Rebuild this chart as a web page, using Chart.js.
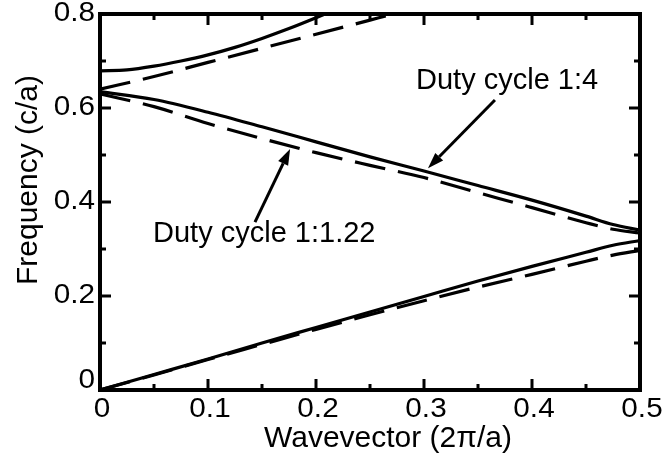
<!DOCTYPE html>
<html lang="en">

<head>
  <meta charset="UTF-8" />
  <title>Band diagram</title>
  <style>
    body {
      margin: 0;
      background: #fff;
    }
    div {
      width: 666px;
      height: 468px;
    }
  </style>
</head>

<body>
  <div>
    <canvas id="myChart"></canvas>
  </div>

  <script src="https://cdn.jsdelivr.net/npm/chart.js"></script>
  <script>
    // wavevector samples (2pi/a)
    const kx = [0, 0.05, 0.1, 0.15, 0.2, 0.25, 0.3, 0.35, 0.4, 0.45, 0.475, 0.5];
    // first band
    const band1Solid = [0, 0.033, 0.066, 0.1, 0.133, 0.166, 0.199, 0.232, 0.263, 0.293, 0.308, 0.318];
    const band1Dashed = [0, 0.032, 0.065, 0.097, 0.129, 0.16, 0.19, 0.219, 0.246, 0.274, 0.287, 0.297];
    // second band
    const band2Solid = [0.635, 0.618, 0.591, 0.56, 0.528, 0.496, 0.466, 0.435, 0.404, 0.37, 0.352, 0.34];
    const band2Dashed = [0.63, 0.603, 0.567, 0.535, 0.505, 0.478, 0.452, 0.42, 0.388, 0.356, 0.342, 0.334];
    // third band (leaves the plot at the top)
    const band3SolidX = [0, 0.025, 0.05, 0.075, 0.1, 0.125, 0.15, 0.175, 0.2, 0.225, 0.25];
    const band3Solid = [0.679, 0.681, 0.689, 0.7, 0.713, 0.729, 0.748, 0.769, 0.792, 0.816, 0.84];
    const band3DashedX = [0, 0.05, 0.1, 0.15, 0.2, 0.25, 0.3];
    const band3Dashed = [0.64, 0.667, 0.697, 0.727, 0.757, 0.787, 0.817];

    const xTicks = [0, 0.1, 0.2, 0.3, 0.4, 0.5];
    const xTickLabels = ["0", "0.1", "0.2", "0.3", "0.4", "0.5"];
    const xMinor = [0.05, 0.15, 0.25, 0.35, 0.45];
    const yTicks = [0, 0.2, 0.4, 0.6, 0.8];
    const yTickLabels = ["0", "0.2", "0.4", "0.6", "0.8"];
    const yMinor = [0.1, 0.3, 0.5, 0.7];

    const pts = (xs, ys) => xs.map((x, i) => ({ x: x, y: ys[i] }));

    const FONT = '"Liberation Sans", Arial, Helvetica, sans-serif';

    function line(label, xs, ys, dashed) {
      return {
        label: label,
        data: pts(xs, ys),
        borderColor: "#000",
        borderWidth: 3.2,
        borderDash: dashed ? [31, 13] : [],
        pointRadius: 0,
        fill: false,
        cubicInterpolationMode: "monotone",
      };
    }

    // annotation labels with arrows (text position in data units, arrow from -> to)
    const notes = [
      { text: "Duty cycle 1:4", tx: 0.2926, ty: 0.6405, from: [0.3657, 0.617], to: [0.3037, 0.472] },
      { text: "Duty cycle 1:1.22", tx: 0.0491, ty: 0.3157, from: [0.1435, 0.357], to: [0.176, 0.513] },
    ];

    function stretchText(ctx, txt, x, y, align, sx) {
      ctx.save();
      ctx.translate(x, y);
      ctx.scale(sx, 1);
      ctx.textAlign = align;
      ctx.fillText(txt, 0, 0);
      ctx.restore();
    }

    const framePlugin = {
      id: "frame",
      afterDatasetsDraw(chart) {
        const { ctx, chartArea: a, scales } = chart;
        const xs = scales.x, ys = scales.y;
        ctx.save();
        ctx.strokeStyle = "#000";
        ctx.fillStyle = "#000";
        ctx.lineWidth = 4;
        ctx.strokeRect(a.left, a.top, a.right - a.left, a.bottom - a.top);

        ctx.lineWidth = 3;
        ctx.lineCap = "butt";
        const tick = (x1, y1, x2, y2) => {
          ctx.beginPath();
          ctx.moveTo(x1, y1);
          ctx.lineTo(x2, y2);
          ctx.stroke();
        };
        xTicks.forEach(v => {
          const p = xs.getPixelForValue(v);
          tick(p, a.bottom, p, a.bottom - 11);
          tick(p, a.top, p, a.top + 11);
        });
        xMinor.forEach(v => {
          const p = xs.getPixelForValue(v);
          tick(p, a.bottom, p, a.bottom - 6);
          tick(p, a.top, p, a.top + 6);
        });
        yTicks.forEach(v => {
          const p = ys.getPixelForValue(v);
          tick(a.left, p, a.left + 11, p);
          tick(a.right, p, a.right - 11, p);
        });
        yMinor.forEach(v => {
          const p = ys.getPixelForValue(v);
          tick(a.left, p, a.left + 6, p);
          tick(a.right, p, a.right - 6, p);
        });

        // tick labels
        ctx.font = "27px " + FONT;
        ctx.textBaseline = "top";
        xTicks.forEach((v, i) => {
          stretchText(ctx, xTickLabels[i], xs.getPixelForValue(v) + 2, a.bottom + 6, "center", 1.1);
        });
        ctx.textBaseline = "middle";
        yTicks.forEach((v, i) => {
          let p = ys.getPixelForValue(v);
          if (v === 0) p -= 9;
          stretchText(ctx, yTickLabels[i], a.left - 5, p, "right", 1.1);
        });

        // axis titles
        ctx.font = "30px " + FONT;
        ctx.textAlign = "center";
        ctx.textBaseline = "alphabetic";
        ctx.fillText("Wavevector (2\u03c0/a)", 388, 447);
        ctx.save();
        ctx.translate(37, 180);
        ctx.rotate(-Math.PI / 2);
        ctx.fillText("Frequency (c/a)", 0, 0);
        ctx.restore();

        // annotations
        ctx.font = "29px " + FONT;
        ctx.textAlign = "left";
        notes.forEach(n => {
          ctx.fillText(n.text, xs.getPixelForValue(n.tx), ys.getPixelForValue(n.ty));
          const x1 = xs.getPixelForValue(n.from[0]), y1 = ys.getPixelForValue(n.from[1]);
          const x2 = xs.getPixelForValue(n.to[0]), y2 = ys.getPixelForValue(n.to[1]);
          const ang = Math.atan2(y2 - y1, x2 - x1);
          const hl = 16, hw = 5.5;
          const bx = x2 - hl * Math.cos(ang), by = y2 - hl * Math.sin(ang);
          ctx.lineWidth = 3;
          tick(x1, y1, bx, by);
          ctx.beginPath();
          ctx.moveTo(x2, y2);
          ctx.lineTo(bx + hw * Math.sin(ang), by - hw * Math.cos(ang));
          ctx.lineTo(bx - hw * Math.sin(ang), by + hw * Math.cos(ang));
          ctx.closePath();
          ctx.fill();
        });
        ctx.restore();
      },
    };

    const ctx = document.getElementById("myChart");
    new Chart(ctx, {
      type: "line",
      data: {
        datasets: [
          line("Duty cycle 1:4, band 1", kx, band1Solid, false),
          line("Duty cycle 1:1.22, band 1", kx, band1Dashed, true),
          line("Duty cycle 1:4, band 2", kx, band2Solid, false),
          line("Duty cycle 1:1.22, band 2", kx, band2Dashed, true),
          line("Duty cycle 1:4, band 3", band3SolidX, band3Solid, false),
          line("Duty cycle 1:1.22, band 3", band3DashedX, band3Dashed, true),
        ],
      },
      options: {
        responsive: true,
        maintainAspectRatio: false,
        animation: false,
        layout: { padding: { left: 100, top: 14, right: 26, bottom: 78 } },
        plugins: { legend: { display: false }, tooltip: { enabled: false } },
        scales: {
          x: { type: "linear", min: 0, max: 0.5, display: false },
          y: { type: "linear", min: 0, max: 0.8, display: false },
        },
      },
      plugins: [framePlugin],
    });
  </script>
</body>

</html>
